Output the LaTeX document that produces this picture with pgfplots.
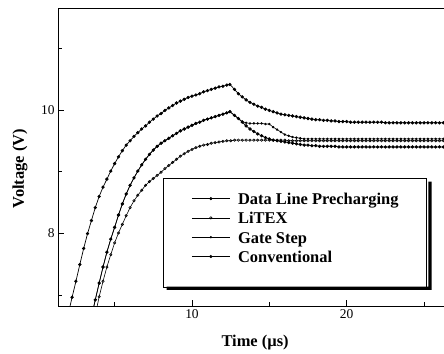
\documentclass[border=0pt]{standalone}
\usepackage{fontspec}
\setmainfont{Liberation Serif}
\usepackage{pgfplots}
\pgfplotsset{compat=1.18}
\begin{document}
\begin{tikzpicture}
\useasboundingbox (0,0) rectangle (444bp,354bp);
\begin{axis}[
  at={(58bp,48bp)}, anchor=south west,
  scale only axis, width=388bp, height=298bp,
  xmin=1.34, xmax=26.42, ymin=6.83, ymax=11.645,
  xtick={10,20}, minor xtick={5,15,25},
  ytick={8,10}, minor ytick={7,9,11},
  tick pos=left, tick align=inside,
  major tick length=6bp, minor tick length=4bp,
  axis line style={line width=0.8pt},
  every tick/.style={black, line width=0.6pt},
  /pgf/number format/assume math mode=true,
  tick label style={font=\fontsize{13.5}{14}\selectfont},
  clip marker paths=true,
  xlabel={\bfseries Time (µs)},
  ylabel={\bfseries Voltage (V)},
  every axis x label/.style={at={(rel axis cs:0.508,0)}, yshift=-37bp, anchor=center, font=\fontsize{16.5}{17}\selectfont},
  every axis y label/.style={at={(rel axis cs:0,0.461)}, xshift=-38bp, rotate=90, anchor=center, font=\fontsize{16.5}{17}\selectfont},
  legend style={at={(rel axis cs:0.2714,0.4285)}, anchor=north west,
    draw=black, line width=0.6pt, fill=white,
    font=\bfseries\fontsize{16.5}{17}\selectfont,
    nodes={inner sep=0pt, text height=11bp, text depth=10bp},
    row sep=-1.7bp, column sep=8bp, inner xsep=28bp, inner ysep=15bp},
  legend cell align=left,
  legend image code/.code={\draw[mark repeat=2,mark phase=2,#1, line width=0.5pt] plot coordinates {(0bp,5.5bp) (19bp,5.5bp) (38bp,5.5bp)};},
]
\addplot[black, line width=0.7pt, mark=*, mark size=1.3pt] coordinates {
(2.0,6.70)(2.25,6.97)(2.5,7.23)(2.75,7.50)(3.0,7.76)(3.25,8.00)(3.5,8.21)(3.75,8.42)(4.0,8.60)(4.25,8.75)(4.5,8.88)(4.75,9.01)(5.0,9.13)(5.25,9.24)(5.5,9.34)(5.75,9.43)(6.0,9.50)(6.25,9.57)(6.5,9.63)(6.75,9.69)(7.0,9.74)(7.25,9.80)(7.5,9.85)(7.75,9.90)(8.0,9.94)(8.25,9.99)(8.5,10.03)(8.75,10.07)(9.0,10.11)(9.25,10.14)(9.5,10.17)(9.75,10.20)(10.0,10.22)(10.25,10.24)(10.5,10.26)(10.75,10.29)(11.0,10.31)(11.25,10.33)(11.5,10.35)(11.75,10.37)(12.0,10.38)(12.25,10.40)(12.45,10.41)(12.75,10.33)(13.0,10.26)(13.25,10.21)(13.5,10.16)(13.75,10.12)(14.0,10.09)(14.25,10.06)(14.5,10.04)(14.75,10.01)(15.0,9.99)(15.25,9.97)(15.5,9.95)(15.75,9.93)(16.0,9.92)(16.25,9.91)(16.5,9.90)(16.75,9.89)(17.0,9.88)(17.25,9.87)(17.5,9.86)(17.75,9.85)(18.0,9.84)(18.25,9.84)(18.5,9.83)(18.75,9.83)(19.0,9.82)(19.25,9.82)(19.5,9.81)(19.75,9.81)(20.0,9.81)(20.25,9.80)(20.5,9.80)(20.75,9.80)(21.0,9.80)(21.25,9.80)(21.5,9.80)(21.75,9.80)(22.0,9.80)(22.25,9.80)(22.5,9.79)(22.75,9.79)(23.0,9.79)(23.25,9.79)(23.5,9.79)(23.75,9.79)(24.0,9.79)(24.25,9.79)(24.5,9.79)(24.75,9.79)(25.0,9.79)(25.25,9.79)(25.5,9.79)(25.75,9.79)(26.0,9.79)(26.25,9.79)(26.5,9.79)};
\addlegendentry{Data Line Precharging}
\addplot[black, line width=0.6pt, mark=o, mark size=1.2pt, mark options={line width=0.6pt}] coordinates {
(3.5,6.35)(3.75,6.68)(4.0,6.98)(4.25,7.23)(4.5,7.46)(4.75,7.66)(5.0,7.85)(5.25,8.01)(5.5,8.15)(5.75,8.29)(6.0,8.42)(6.25,8.53)(6.5,8.62)(6.75,8.70)(7.0,8.78)(7.25,8.84)(7.5,8.89)(7.75,8.94)(8.0,8.99)(8.25,9.05)(8.5,9.10)(8.75,9.15)(9.0,9.20)(9.25,9.25)(9.5,9.29)(9.75,9.33)(10.0,9.36)(10.25,9.39)(10.5,9.41)(10.75,9.43)(11.0,9.44)(11.25,9.46)(11.5,9.47)(11.75,9.48)(12.0,9.49)(12.25,9.50)(12.5,9.50)(12.75,9.51)(13.0,9.51)(13.25,9.51)(13.5,9.51)(13.75,9.51)(14.0,9.51)(14.25,9.51)(14.5,9.51)(14.75,9.51)(15.0,9.51)(15.25,9.51)(15.5,9.51)(15.75,9.51)(16.0,9.51)(16.25,9.50)(16.5,9.50)(16.75,9.50)(17.0,9.50)(17.25,9.50)(17.5,9.50)(17.75,9.50)(18.0,9.50)(18.25,9.50)(18.5,9.50)(18.75,9.50)(19.0,9.50)(19.25,9.50)(19.5,9.50)(19.75,9.50)(20.0,9.50)(20.25,9.50)(20.5,9.50)(20.75,9.50)(21.0,9.50)(21.25,9.50)(21.5,9.50)(21.75,9.50)(22.0,9.50)(22.25,9.50)(22.5,9.50)(22.75,9.50)(23.0,9.50)(23.25,9.50)(23.5,9.50)(23.75,9.50)(24.0,9.50)(24.25,9.50)(24.5,9.50)(24.75,9.50)(25.0,9.50)(25.25,9.50)(25.5,9.50)(25.75,9.50)(26.0,9.50)(26.25,9.50)(26.5,9.50)};
\addlegendentry{LiTEX}
\addplot[black, line width=0.6pt, mark=*, mark size=0.9pt] coordinates {
(3.5,6.65)(3.75,6.93)(4.0,7.20)(4.25,7.46)(4.5,7.70)(4.75,7.91)(5.0,8.10)(5.25,8.30)(5.5,8.48)(5.75,8.64)(6.0,8.78)(6.25,8.90)(6.5,9.01)(6.75,9.11)(7.0,9.20)(7.25,9.28)(7.5,9.35)(7.75,9.41)(8.0,9.46)(8.25,9.50)(8.5,9.54)(8.75,9.58)(9.0,9.62)(9.25,9.66)(9.5,9.69)(9.75,9.72)(10.0,9.75)(10.25,9.78)(10.5,9.80)(10.75,9.83)(11.0,9.85)(11.25,9.87)(11.5,9.89)(11.75,9.91)(12.0,9.93)(12.25,9.95)(12.45,9.97)(12.75,9.91)(13.0,9.86)(13.25,9.81)(13.5,9.79)(13.75,9.78)(14.0,9.78)(14.25,9.78)(14.5,9.78)(14.75,9.77)(15.0,9.77)(15.25,9.72)(15.5,9.68)(15.75,9.64)(16.0,9.60)(16.25,9.58)(16.5,9.56)(16.75,9.55)(17.0,9.54)(17.25,9.53)(17.5,9.53)(17.75,9.53)(18.0,9.53)(18.25,9.53)(18.5,9.53)(18.75,9.53)(19.0,9.53)(19.25,9.53)(19.5,9.53)(19.75,9.53)(20.0,9.53)(20.25,9.53)(20.5,9.53)(20.75,9.53)(21.0,9.53)(21.25,9.53)(21.5,9.53)(21.75,9.53)(22.0,9.53)(22.25,9.53)(22.5,9.53)(22.75,9.53)(23.0,9.53)(23.25,9.53)(23.5,9.53)(23.75,9.53)(24.0,9.53)(24.25,9.53)(24.5,9.53)(24.75,9.53)(25.0,9.53)(25.25,9.53)(25.5,9.53)(25.75,9.53)(26.0,9.53)(26.25,9.53)(26.5,9.53)};
\addlegendentry{Gate Step}
\addplot[black, line width=0.7pt, mark=*, mark size=1.3pt] coordinates {
(3.5,6.65)(3.75,6.93)(4.0,7.20)(4.25,7.46)(4.5,7.70)(4.75,7.91)(5.0,8.10)(5.25,8.30)(5.5,8.48)(5.75,8.64)(6.0,8.78)(6.25,8.90)(6.5,9.01)(6.75,9.11)(7.0,9.20)(7.25,9.28)(7.5,9.35)(7.75,9.41)(8.0,9.46)(8.25,9.50)(8.5,9.54)(8.75,9.58)(9.0,9.62)(9.25,9.66)(9.5,9.69)(9.75,9.72)(10.0,9.75)(10.25,9.78)(10.5,9.80)(10.75,9.83)(11.0,9.85)(11.25,9.87)(11.5,9.89)(11.75,9.91)(12.0,9.93)(12.25,9.95)(12.45,9.97)(12.75,9.91)(13.0,9.86)(13.25,9.80)(13.5,9.74)(13.75,9.69)(14.0,9.65)(14.25,9.61)(14.5,9.58)(14.75,9.55)(15.0,9.53)(15.25,9.51)(15.5,9.50)(15.75,9.49)(16.0,9.48)(16.25,9.47)(16.5,9.46)(16.75,9.45)(17.0,9.44)(17.25,9.43)(17.5,9.43)(17.75,9.42)(18.0,9.42)(18.25,9.41)(18.5,9.41)(18.75,9.41)(19.0,9.41)(19.25,9.41)(19.5,9.40)(19.75,9.40)(20.0,9.40)(20.25,9.40)(20.5,9.40)(20.75,9.40)(21.0,9.40)(21.25,9.40)(21.5,9.40)(21.75,9.40)(22.0,9.40)(22.25,9.40)(22.5,9.40)(22.75,9.40)(23.0,9.40)(23.25,9.40)(23.5,9.40)(23.75,9.40)(24.0,9.40)(24.25,9.40)(24.5,9.40)(24.75,9.40)(25.0,9.40)(25.25,9.40)(25.5,9.40)(25.75,9.40)(26.0,9.40)(26.25,9.40)(26.5,9.40)};
\addlegendentry{Conventional}
\end{axis}
\fill[black] (166.6bp,67.3bp) -- (166.6bp,64bp) -- (431.6bp,64bp) -- (431.6bp,172.4bp) -- (428.3bp,172.4bp) -- (428.3bp,67.3bp) -- cycle;
\end{tikzpicture}
\end{document}
